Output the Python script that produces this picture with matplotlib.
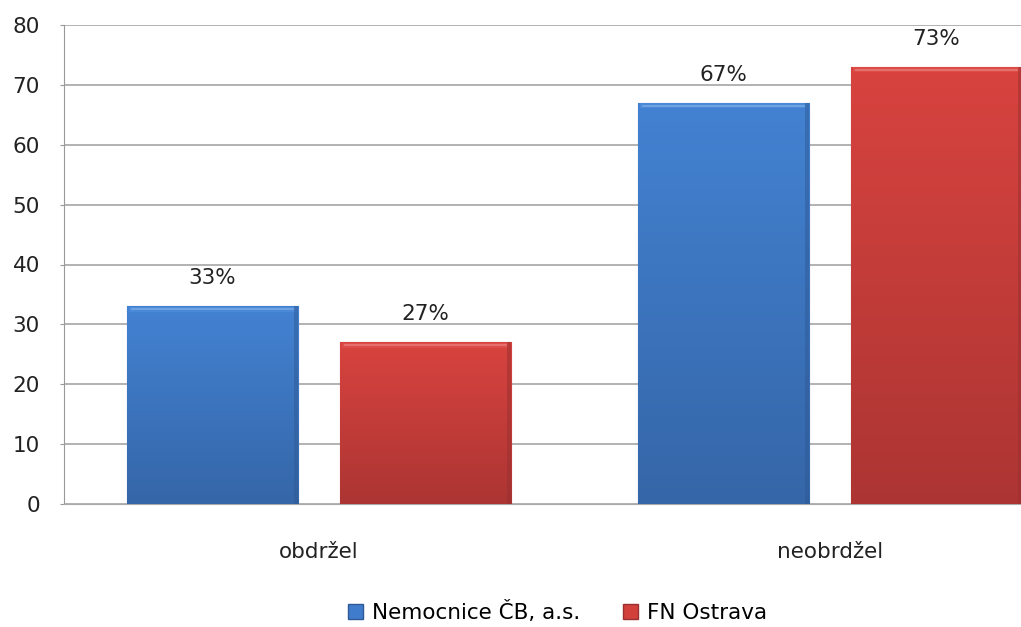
import matplotlib.pyplot as plt
import numpy as np
from matplotlib.colors import LinearSegmentedColormap
from matplotlib.patches import Patch

# survey answers, two hospitals
categories = ["obdržel", "neobrdžel"]
series_names = ["Nemocnice ČB, a.s.", "FN Ostrava"]
nemocnice_cb = [33, 67]
fn_ostrava = [27, 73]
yticks = [0, 10, 20, 30, 40, 50, 60, 70, 80]

plt.rcParams['font.family'] = ['DejaVu Sans']
FS = 15.5

fig = plt.figure(figsize=(10.21, 6.27), dpi=100)
ax = fig.add_axes([63.5 / 1021, 123 / 627, 1022 / 1021, 479 / 627])

x = np.arange(len(categories))
w = 0.335
off = 0.2085

# top/bottom shades for the bevelled bars
shades = {
    "blue": ("#4a8ad8", "#4382d2", "#3566a8", "#2f5a96"),
    "red": ("#de4c48", "#d8433f", "#ac3533", "#983030"),
}


def draw_bars(xpos, vals, key):
    light, top, bottom, edge = shades[key]
    bars = ax.bar(xpos, vals, w, color=top, edgecolor=edge, linewidth=0.8, zorder=3)
    cmap = LinearSegmentedColormap.from_list(key, [bottom, top])
    for b, v in zip(bars, vals):
        x0, y0 = b.get_x(), b.get_y()
        bw, bh = b.get_width(), b.get_height()
        grad = np.linspace(0, 1, 256).reshape(-1, 1)
        im = ax.imshow(grad, cmap=cmap, origin="lower", aspect="auto",
                       extent=[x0, x0 + bw, y0, y0 + bh], zorder=3.5)
        im.set_clip_path(b)
        # lighter bevel along the top edge
        ax.fill_between([x0 + 0.004, x0 + bw - 0.004], y0 + bh - 0.9, y0 + bh - 0.05,
                        color=light, lw=0, zorder=4)
        ax.plot([x0 + 0.01, x0 + bw - 0.01], [y0 + bh - 0.45] * 2, color="#ffffff",
                alpha=0.25, lw=1.2, zorder=4)
        # darker bevel on the right side
        ax.fill_between([x0 + bw - 0.008, x0 + bw], y0, y0 + bh, color=edge,
                        alpha=0.5, lw=0, zorder=4)
        ax.annotate(f"{v}%", (x0 + bw / 2, y0 + bh),
                    xytext=(0, 13), textcoords="offset points", ha="center",
                    va="bottom", fontsize=FS, color="#222222")
    return bars


draw_bars(x - off, nemocnice_cb, "blue")
draw_bars(x + off, fn_ostrava, "red")

ax.set_xlim(-0.5, 1.5)
ax.set_ylim(0, 80)
ax.set_yticks(yticks)
ax.set_xticks(x)
ax.set_xticklabels(categories, fontsize=FS, color="#222222")
ax.tick_params(axis="y", labelsize=FS, colors="#222222", length=3, color="#999999", pad=14)
ax.tick_params(axis="x", length=0, pad=27)
ax.yaxis.grid(True, color="#a6a6a6", lw=1.2, zorder=0)
ax.set_axisbelow(True)
for s in ["top", "right"]:
    ax.spines[s].set_visible(False)
ax.spines["left"].set_color("#999999")
ax.spines["bottom"].set_color("#aaaaaa")
ax.spines["bottom"].set_linestyle((0, (1, 1)))

handles = [Patch(facecolor="#3f7ccc", edgecolor="#2f5a96"),
           Patch(facecolor="#d2403c", edgecolor="#983030")]
fig.legend(handles, series_names, loc="center", bbox_to_anchor=(0.546, 0.024),
           ncol=2, frameon=False, fontsize=FS, handlelength=0.7, handleheight=0.7,
           handletextpad=0.4, columnspacing=2.0)

fig.savefig("out.png", dpi=100)
